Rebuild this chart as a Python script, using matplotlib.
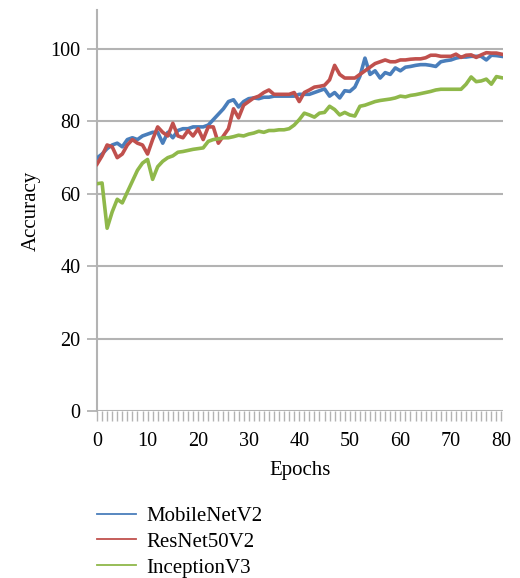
import matplotlib
matplotlib.use("Agg")
import matplotlib.pyplot as plt
from matplotlib.lines import Line2D
import numpy as np

epochs = list(range(0, 81))

mobilenet = [69.9, 71, 72.5, 73.5, 74, 73, 75, 75.5, 75, 76, 76.5, 77, 77, 74, 77, 75.5,
             77.5, 78, 78, 78.5, 78.5, 78.5, 79, 80.5, 82, 83.5, 85.5, 86, 84, 85.5, 86.3,
             86.5, 86.3, 86.7, 86.7, 87, 87, 87, 87, 87, 87.5, 87.5, 87.5, 88, 88.5, 89,
             87, 88, 86.5, 88.5, 88.3, 89.5, 92.5, 97.5, 93, 94, 92, 93.5, 93, 94.8, 94,
             95, 95.2, 95.5, 95.7, 95.7, 95.5, 95.2, 96.5, 96.8, 97, 97.5, 97.8, 97.8, 98,
             98, 98, 97, 98.3, 98.2, 98]

resnet = [68.2, 70.5, 73.5, 73, 70, 71, 73.5, 75, 74, 73.5, 71, 75, 78.5, 77, 76, 79.5,
          76, 75.5, 77.5, 76, 78, 75, 78.5, 78.5, 74, 76, 78, 83.5, 81, 84.5, 85.5, 86.5,
          87, 88, 88.7, 87.5, 87.5, 87.5, 87.5, 88, 85.5, 88, 88.7, 89.5, 89.7, 90, 91.5,
          95.5, 93, 92, 92, 92, 93, 94, 95, 96, 96.5, 97, 96.5, 96.5, 97, 97, 97.2, 97.3,
          97.3, 97.6, 98.3, 98.3, 98, 98, 98, 98.6, 97.7, 98.3, 98.4, 97.7, 98.4, 99, 98.9,
          98.9, 98.6]

inception = [62.8, 63, 50.5, 55, 58.5, 57.5, 60.5, 63.5, 66.5, 68.5, 69.5, 64, 67.5, 69,
             70, 70.5, 71.5, 71.7, 72, 72.3, 72.5, 72.7, 74.5, 75, 75.2, 75.5, 75.5, 75.8,
             76.2, 76, 76.5, 76.8, 77.3, 77, 77.5, 77.5, 77.7, 77.7, 78, 79, 80.5, 82.3,
             81.8, 81.2, 82.3, 82.5, 84.2, 83.3, 81.8, 82.5, 81.8, 81.5, 84.2, 84.5, 85,
             85.5, 85.8, 86, 86.2, 86.5, 87, 86.8, 87.2, 87.4, 87.7, 88, 88.3, 88.7, 88.9,
             88.9, 88.9, 88.9, 88.9, 90.3, 92.3, 91, 91.2, 91.7, 90.3, 92.4, 92.1]

series_names = ["MobileNetV2", "ResNet50V2", "InceptionV3"]
colors = ["#4a7ebb", "#c0504d", "#8fb84a"]
y_ticks = [0, 20, 40, 60, 80, 100]
x_ticks = [0, 10, 20, 30, 40, 50, 60, 70, 80]

serif = ["Liberation Serif", "DejaVu Serif"]
plt.rcParams['font.family'] = serif

fig = plt.figure(figsize=(5.2, 5.78), dpi=100)
ax = fig.add_axes([97/520, 1 - 411/578, 406/520, 401/578])

grid_c = "#b3b3b3"
for yt in y_ticks:
    ax.axhline(yt, color=grid_c, lw=1.5, zorder=1)

for vals, c in zip([mobilenet, resnet, inception], colors):
    ax.plot(epochs, vals, color=c, lw=2.6, zorder=3, solid_joinstyle='round')

ax.set_xlim(0, 80.3)
ax.set_ylim(0, 110.8)

for s in ["top", "right", "bottom"]:
    ax.spines[s].set_visible(False)
ax.spines["left"].set_color(grid_c)
ax.spines["left"].set_linewidth(1.5)

ax.set_yticks(y_ticks)
ax.set_yticklabels([str(v) for v in y_ticks])
ax.set_xticks(x_ticks)
ax.set_xticklabels([str(v) for v in x_ticks])
ax.set_xticks(epochs, minor=True)
ax.tick_params(axis='y', length=7, width=1.3, color=grid_c, labelsize=14.5, pad=5)
ax.tick_params(axis='x', which='major', length=7, width=1.0, color=grid_c, labelsize=14.5, pad=8)
ax.tick_params(axis='x', which='minor', length=7, width=1.0, color=grid_c)

ax.set_xlabel("Epochs", fontsize=15, labelpad=7)
ax.set_ylabel("Accuracy", fontsize=15, labelpad=7)

handles = [Line2D([0], [0], color=c, lw=1.3) for c in colors]
fig.legend(handles, series_names, loc="upper left", bbox_to_anchor=(89/520, 1 - 498/578),
           frameon=False, fontsize=15, handlelength=1.85, handletextpad=0.5,
           labelspacing=0.3, borderaxespad=0)

fig.savefig("out.png", dpi=100)
